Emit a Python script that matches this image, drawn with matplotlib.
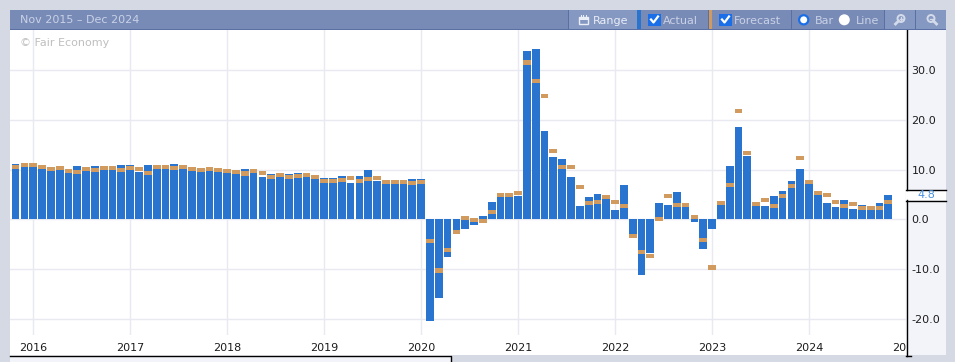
import matplotlib
matplotlib.use("Agg")
import matplotlib.pyplot as plt
from matplotlib.patches import Rectangle, Circle
from matplotlib.transforms import Bbox

# ── Data ──────────────────────────────────────────────────────────────────────
ACTUAL = [
    11.1, 10.6, 10.7, 10.3, 9.8, 9.9, 9.3, 10.7, 9.7, 10.7,
    9.9, 9.9, 10.9, 10.9, 9.5, 10.9, 10.1, 10.1, 11.1, 10.1,
    9.7, 9.5, 9.7, 9.5, 9.3, 9.1, 10.1, 9.3, 8.5, 9.1,
    8.5, 9.1, 9.3, 8.5, 8.1, 8.3, 8.3, 8.7, 7.3, 8.7,
    9.9, 7.7, 7.1, 7.1, 7.1, 8.1, 8.1, -20.5, -15.9, -7.5,
    -2.2, -1.9, -1.1, 0.7, 3.5, 4.5, 4.5, 4.7, 33.7, 34.1,
    17.7, 12.5, 12.1, 8.5, 2.7, 4.5, 5.1, 4.1, 1.9, 6.9,
    -3.0, -11.1, -6.7, 3.3, 2.9, 5.5, 2.5, -0.5, -5.9, -1.9,
    2.9, 10.7, 18.5, 12.7, 2.7, 2.7, 4.7, 5.7, 7.7, 10.1,
    7.1, 4.9, 3.3, 2.5, 3.9, 2.1, 2.9, 1.9, 3.3, 4.8,
]
FORECAST = [
    10.5, 10.9, 10.9, 10.5, 10.1, 10.3, 9.7, 9.5, 10.1, 9.9,
    10.3, 10.3, 9.9, 10.3, 10.1, 9.3, 10.5, 10.5, 10.3, 10.5,
    10.1, 9.9, 10.1, 9.9, 9.7, 9.5, 9.2, 9.7, 9.3, 8.5,
    8.9, 8.5, 8.7, 8.9, 8.5, 7.7, 7.7, 7.9, 8.3, 7.7,
    8.1, 8.3, 7.5, 7.5, 7.5, 7.3, 7.5, -4.3, -10.3, -6.1,
    -2.5, 0.3, -0.1, -0.3, 1.5, 4.9, 4.9, 5.3, 31.5, 27.7,
    24.7, 13.7, 10.5, 10.5, 6.5, 3.3, 3.5, 4.5, 3.5, 2.7,
    -3.3, -6.5, -7.3, 0.1, 4.7, 2.9, 2.9, 0.5, -4.1, -9.7,
    3.3, 6.9, 21.7, 13.3, 3.1, 3.9, 2.7, 4.7, 6.7, 12.3,
    7.5, 5.3, 4.9, 3.5, 2.7, 3.1, 2.3, 2.3, 2.3, 3.5,
]
YEAR_LABELS = ["2016", "2017", "2018", "2019", "2020", "2021", "2022", "2023", "2024"]
YEAR_POS = [2, 13, 24, 35, 46, 57, 68, 79, 90]
NEXT_YEAR_POS = 101
Y_TICKS = [-20, -10, 0, 10, 20, 30]
LATEST = 4.8

# ── Colours ───────────────────────────────────────────────────────────────────
BG = "#d5d9e4"
HEADER = "#788bb7"
HEADER_LT = "#8598c1"
HEADER_LINE = "#5a6fa3"
HEADER_TXT = "#c9d1e6"
PANEL = "#f3f4f9"
GRID = "#e8e9f1"
BLUE = "#2874ce"
TAN = "#d19a5e"
CHECK = "#1a6fe8"
TEXT = "#1c1c1c"

W, H = 955, 362
PX_PER_UNIT = 4.98
PX_PER_BAR = 8.849
ZERO_Y = 219.3
X0 = 33.3 - 2 * PX_PER_BAR
PLOT_L, PLOT_R, PLOT_T, PLOT_B = 10, 906, 30, 335

fig = plt.figure(figsize=(W / 100, H / 100), dpi=100, facecolor=BG)

# ── Chrome underlay, drawn in pixel coordinates ───────────────────────────────
ui = fig.add_axes([0, 0, 1, 1], zorder=0)
ui.set_xlim(0, W)
ui.set_ylim(H, 0)
ui.axis("off")


def box(x0, y0, x1, y1, color, target=ui, **kw):
    target.add_patch(Rectangle((x0, y0), x1 - x0, y1 - y0, fc=color, ec="none", lw=0, **kw))


box(10, 30, 906, 355, "white")
box(906, 30, 946, 355, PANEL)
box(10, 355, 451, 362, PANEL)
ui.plot([10, 451, 451], [355.5, 355.5, 362], color="black", lw=1)
ui.plot([906.5, 906.5], [30, 189.5], color="black", lw=1)
ui.plot([906.5, 906.5], [200, 355.5], color="black", lw=1)
ui.plot([906, 911], [355.5, 355.5], color="black", lw=1)
box(906, 190, 946, 200, "white")
ui.plot([906, 946], [189.5, 189.5], color="black", lw=1)
ui.plot([906, 946], [200.5, 200.5], color="black", lw=1)

# ── Main plot ─────────────────────────────────────────────────────────────────
ax = fig.add_axes([PLOT_L / W, 1 - PLOT_B / H, (PLOT_R - PLOT_L) / W, (PLOT_B - PLOT_T) / H], zorder=1)
ax.patch.set_alpha(0)
ax.set_xlim((PLOT_L - X0) / PX_PER_BAR, (PLOT_R - X0) / PX_PER_BAR)
ax.set_ylim((ZERO_Y - PLOT_B) / PX_PER_UNIT, (ZERO_Y - PLOT_T) / PX_PER_UNIT)
for s in ax.spines.values():
    s.set_visible(False)
ax.set_axisbelow(True)
ax.grid(True, color=GRID, lw=1)

x = list(range(len(ACTUAL)))
ax.bar(x, ACTUAL, width=0.88, color=BLUE, lw=0)
tan_h = 0.85
ax.bar(x, [tan_h] * len(x), bottom=[f - tan_h / 2 for f in FORECAST], width=0.88,
       color=TAN, lw=0)

ax.set_xticks(YEAR_POS + [NEXT_YEAR_POS], YEAR_LABELS + [""])
ax.set_yticks(Y_TICKS)
ax.tick_params(axis="both", length=0)
ax.tick_params(axis="x", labelsize=8, labelcolor=TEXT, pad=6)
ax.tick_params(axis="y", labelleft=False, labelright=True, labelsize=8, labelcolor=TEXT, pad=4)
ax.yaxis.set_major_formatter(lambda v, _: f"{v:.1f}")

# the 2025 label runs off the plot and gets cut at the panel edge
cut = ax.text(NEXT_YEAR_POS, -25.9, "2025", fontsize=8, color=TEXT, ha="center", va="center")
cut.set_clip_box(Bbox([[0, 0], [PLOT_R, H]]))
cut.set_clip_on(True)
cut.set_in_layout(False)

# ── Header bar ────────────────────────────────────────────────────────────────
top = fig.add_axes([0, 0, 1, 1], zorder=2)
top.set_xlim(0, W)
top.set_ylim(H, 0)
top.axis("off")
top.patch.set_alpha(0)

box(10, 10, 946, 30, HEADER, top)
box(10, 29, 946, 30, HEADER_LINE, top)
box(569, 10, 637, 29, HEADER_LT, top)
box(885, 10, 915, 29, HEADER_LT, top)
box(916, 10, 946, 29, HEADER_LT, top)
box(637, 10, 641, 29, BLUE, top)
box(709, 10, 712, 29, TAN, top)
for sep in [568, 708, 791, 884, 915]:
    box(sep, 10, sep + 1, 29, HEADER_LINE, top)

top.text(19.5, 20, "Nov 2015 – Dec 2024", fontsize=8, color=HEADER_TXT, va="center")
top.text(20, 43.5, "© Fair Economy", fontsize=8, color="#bfbfbf", va="center")
top.text(593, 20.5, "Range", fontsize=8, color="#e9edf6", va="center")
top.text(663, 20.5, "Actual", fontsize=8, color=HEADER_TXT, va="center")
top.text(734, 20.5, "Forecast", fontsize=8, color=HEADER_TXT, va="center")
top.text(815, 20.5, "Bar", fontsize=8, color=HEADER_TXT, va="center")
top.text(856, 20.5, "Line", fontsize=8, color=HEADER_TXT, va="center")

# calendar icon
top.add_patch(Rectangle((579, 17), 9, 7, fc="none", ec="#e9edf6", lw=1))
box(579, 17, 588, 20, "#e9edf6", top)
for cx in [581, 583.5, 586]:
    box(cx - 0.5, 15, cx + 0.5, 17, "#e9edf6", top)

# check boxes
for bx in [648, 719]:
    top.add_patch(Rectangle((bx, 13.5), 13, 12, fc=CHECK, ec="none"))
    top.plot([bx + 3, bx + 5.5, bx + 10], [19.5, 22.5, 16.5], color="white", lw=1.6)

# radio buttons
top.add_patch(Circle((803.7, 19.8), 4.6, fc="white", ec=CHECK, lw=1.6))
top.add_patch(Circle((844.3, 19.8), 5.5, fc="white", ec="none"))

# magnifier icons: handle points down-left on zoom in, down-right on zoom out
top.add_patch(Circle((901, 18.5), 3.5, fc="none", ec="#d3daea", lw=1.4))
top.plot([898.5, 895.5], [21, 24], color="#d3daea", lw=2)
top.plot([899.5, 902.5], [18.5, 18.5], color="#d3daea", lw=1)
top.plot([901, 901], [17, 20], color="#d3daea", lw=1)
top.add_patch(Circle((931, 18.5), 3.5, fc="none", ec="#d3daea", lw=1.4))
top.plot([933.5, 936.5], [21, 24], color="#d3daea", lw=2)
top.plot([929.5, 932.5], [18.5, 18.5], color="#d3daea", lw=1)

# latest value tag
top.text(926, 195, f"{LATEST:.1f}", fontsize=8, color="#4a90e2", ha="center", va="center")

fig.savefig("out.png", dpi=100, facecolor=BG)
plt.close(fig)
